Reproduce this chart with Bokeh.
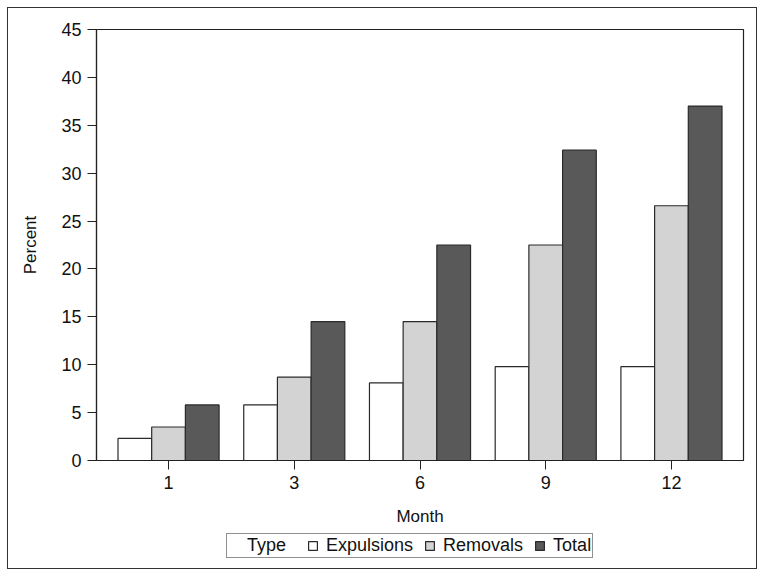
from bokeh.plotting import figure
from bokeh.layouts import column
from bokeh.models import FactorRange, Range1d, Legend, LegendItem, ColumnDataSource, FixedTicker
from bokeh.transform import dodge
from bokeh.embed import file_html
from bokeh.resources import INLINE

months = ["1", "3", "6", "9", "12"]
expulsions = [2.3, 5.8, 8.1, 9.8, 9.8]
removals = [3.5, 8.7, 14.5, 22.5, 26.6]
total = [5.8, 14.5, 22.5, 32.4, 37.0]
y_ticks = [0, 5, 10, 15, 20, 25, 30, 35, 40, 45]
series_names = ["Expulsions", "Removals", "Total"]
series_colors = ["#ffffff", "#d3d3d3", "#595959"]
legend_title = "Type"

src = ColumnDataSource(dict(month=months, exp=expulsions, rem=removals, tot=total))

FONT = "Liberation Sans"
EDGE = "#2a2a2a"
p = figure(width=748, height=524, output_backend="svg", toolbar_location=None,
           x_range=FactorRange(*months, range_padding=0.073, range_padding_units="absolute"),
           y_range=Range1d(0, 45),
           min_border_left=88, min_border_right=13, min_border_top=21, min_border_bottom=72)

w = 0.268
for col, off, color in zip(["exp", "rem", "tot"], [-w, 0, w], series_colors):
    p.vbar(x=dodge("month", off, range=p.x_range), top=col, width=w, source=src,
           fill_color=color, line_color=EDGE, line_width=1.2)

p.grid.visible = False
p.outline_line_color = "#222222"
p.outline_line_width = 1.2

for ax in (p.xaxis[0], p.yaxis[0]):
    ax.axis_line_color = "#222222"
    ax.axis_line_width = 1.2
    ax.major_tick_line_color = "#222222"
    ax.minor_tick_line_color = None
    ax.major_tick_out = 9
    ax.major_tick_in = 0
    ax.major_label_text_font = FONT
    ax.major_label_text_font_size = "18px"
    ax.major_label_text_color = "#111111"
    ax.axis_label_text_font = FONT
    ax.axis_label_text_font_size = "17px"
    ax.axis_label_text_font_style = "normal"
    ax.axis_label_text_color = "#111111"
    ax.major_label_standoff = 6

p.yaxis.ticker = FixedTicker(ticks=y_ticks)
p.yaxis.axis_label = "Percent"
p.xaxis.axis_label = "Month"
p.xaxis.axis_label_standoff = 15
p.yaxis.axis_label_standoff = 18
p.xaxis.group_text_font_size = "0px"

# legend strip below the chart (proxy renderers sit outside the visible range)
p2 = figure(width=748, height=36, output_backend="svg", toolbar_location=None,
            x_axis_type=None, y_axis_type=None, x_range=Range1d(0, 1), y_range=Range1d(0, 1),
            min_border=0, outline_line_color=None)
p2.grid.visible = False
proxy0 = p2.vbar(x=[-10], top=[0], width=1, fill_alpha=0, line_alpha=0)
items = [LegendItem(label=legend_title + "\u00a0\u00a0", renderers=[proxy0])]
for name, color in zip(series_names, series_colors):
    r = p2.vbar(x=[-10], top=[0], width=1, fill_color=color, line_color=EDGE, line_width=1.2)
    items.append(LegendItem(label=name, renderers=[r]))

legend = Legend(items=items, orientation="horizontal", location=(130, 10),
                label_text_font=FONT, label_text_font_size="18px", label_text_color="#111111",
                glyph_width=11, glyph_height=11, label_standoff=8, spacing=11,
                label_height=18, padding=1, margin=0,
                border_line_color="#222222", border_line_width=1.2,
                background_fill_alpha=1)
p2.add_layout(legend, "center")

layout = column(p, p2, spacing=0,
                styles={"border": "1px solid #333333", "margin": "7px 0 0 7px"})

open("out.html", "w").write(file_html(layout, INLINE))
